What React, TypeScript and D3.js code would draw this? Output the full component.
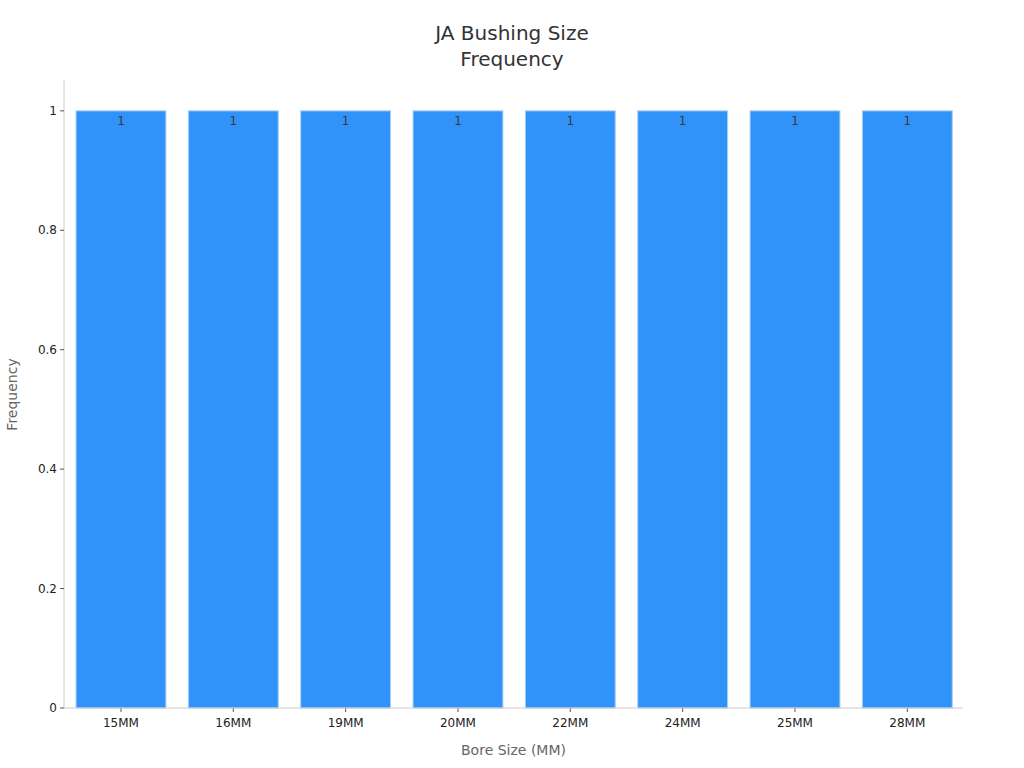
import React from "react";
import * as d3 from "d3";

const categories = ["15MM", "16MM", "19MM", "20MM", "22MM", "24MM", "25MM", "28MM"];
const frequencies = [1, 1, 1, 1, 1, 1, 1, 1];
const yTicks = [0, 0.2, 0.4, 0.6, 0.8, 1];
const titleLines = ["JA Bushing Size", "Frequency"];

const W = 1024, H = 768;
const M = { left: 64, right: 963, top: 81, bottom: 708 };

export default function App() {
  const x = d3.scaleBand<string>().domain(categories).range([M.left + 0.8, M.right + 0.5]).paddingInner(0.2).paddingOuter(0.1);
  const y = d3.scaleLinear().domain([0, 1.05]).range([M.bottom, M.top]);
  const font = "DejaVu Sans, sans-serif";
  const fmt = (v: number) => (v === 0 || v === 1 ? String(v) : v.toFixed(1));
  return (
    <svg width={W} height={H} style={{ position: "absolute", left: 0, top: 0, background: "#fff" }} fontFamily={font}>
      {titleLines.map((t, i) => (
        <text key={i} x={512} y={40 + i * 26} textAnchor="middle" fontSize={20} fill="#333">{t}</text>
      ))}
      {categories.map((c, i) => (
        <g key={c}>
          <rect x={x(c)} y={y(frequencies[i])} width={x.bandwidth()} height={y(0) - y(frequencies[i])} fill="#3093f9" stroke="#a9d0f5" strokeWidth={1} />
          <text x={x(c)! + x.bandwidth() / 2} y={y(frequencies[i]) + 14} textAnchor="middle" fontSize={12} fill="#3a3a3a">{frequencies[i]}</text>
          <line x1={x(c)! + x.bandwidth() / 2} x2={x(c)! + x.bandwidth() / 2} y1={M.bottom} y2={M.bottom + 4} stroke="#555" />
          <text x={x(c)! + x.bandwidth() / 2} y={M.bottom + 19} textAnchor="middle" fontSize={12} fill="#222">{c}</text>
        </g>
      ))}
      <line x1={M.left} x2={M.left} y1={M.top - 1} y2={M.bottom} stroke="#cccccc" />
      <line x1={M.left} x2={M.right} y1={M.bottom} y2={M.bottom} stroke="#cccccc" />
      {yTicks.map(t => (
        <g key={t}>
          <line x1={M.left - 4} x2={M.left} y1={y(t)} y2={y(t)} stroke="#555" />
          <text x={M.left - 7} y={y(t) + 4} textAnchor="end" fontSize={12} fill="#222">{fmt(t)}</text>
        </g>
      ))}
      <text transform={`translate(17,${(M.top + M.bottom) / 2}) rotate(-90)`} textAnchor="middle" fontSize={14} fill="#666">Frequency</text>
      <text x={(M.left + M.right) / 2} y={755} textAnchor="middle" fontSize={14} fill="#666">Bore Size (MM)</text>
    </svg>
  );
}
